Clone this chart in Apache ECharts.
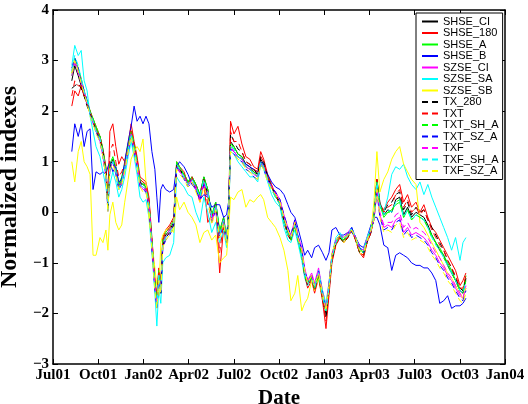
<!DOCTYPE html>
<html>
<head>
<meta charset="utf-8">
<script src="https://cdn.jsdelivr.net/npm/echarts@6/dist/echarts.min.js"></script>
<style>html,body{margin:0;padding:0;background:#fff}#c{width:528px;height:404px}</style>
</head>
<body>
<div id="c"></div>
<script>
// ---- data ----
const xLabels = ['Jul01','Oct01','Jan02','Apr02','Jul02','Oct02','Jan03','Apr03','Jul03','Oct03','Jan04'];
const yTicks = [-3,-2,-1,0,1,2,3,4];
const dates = [
'2001-08-08','2001-08-14','2001-08-21','2001-08-27','2001-09-02','2001-09-08','2001-09-14','2001-09-20','2001-09-26','2001-10-04',
'2001-10-10','2001-10-16','2001-10-20','2001-10-24','2001-10-30','2001-11-05','2001-11-11','2001-11-17','2001-11-23','2001-11-30',
'2001-12-06','2001-12-12','2001-12-18','2001-12-24','2001-12-30','2002-01-05','2002-01-11','2002-01-17','2002-01-23','2002-01-27',
'2002-01-31','2002-02-04','2002-02-08','2002-02-14','2002-02-22','2002-03-02','2002-03-08','2002-03-14','2002-03-23','2002-03-31',
'2002-04-08','2002-04-16','2002-04-24','2002-05-02','2002-05-10','2002-05-18','2002-05-26','2002-06-03','2002-06-11','2002-06-17',
'2002-06-21','2002-06-25','2002-07-02','2002-07-10','2002-07-18','2002-07-26','2002-08-03','2002-08-11','2002-08-19','2002-08-25',
'2002-08-31','2002-09-08','2002-09-16','2002-09-24','2002-10-03','2002-10-11','2002-10-19','2002-10-25','2002-11-02','2002-11-08',
'2002-11-16','2002-11-22','2002-11-28','2002-12-06','2002-12-12','2002-12-20','2002-12-28','2003-01-04','2003-01-10','2003-01-16',
'2003-01-24','2003-02-01','2003-02-09','2003-02-17','2003-02-25','2003-03-05','2003-03-13','2003-03-21','2003-03-28','2003-04-05',
'2003-04-11','2003-04-17','2003-04-23','2003-05-01','2003-05-09','2003-05-17','2003-05-25','2003-06-02','2003-06-10','2003-06-18',
'2003-06-26','2003-07-05','2003-07-13','2003-07-21','2003-07-29','2003-08-06','2003-08-14','2003-08-22','2003-08-30','2003-09-07',
'2003-09-15','2003-09-23','2003-10-02','2003-10-08','2003-10-14'];

const SHSE_CI = [2.6,2.9,2.7,2.5,2.3,2.15,1.95,1.8,1.65,1.5, 1.2,0.8,0.1,0.9,1.05,0.85,0.5,0.65,0.9,1.3, 1.6,1.3,1.0,0.6,0.55,0.5,0.2,-0.6,-1.4,-1.75, -1.2,-1.5,-0.6,-0.45,-0.35,-0.2,0.95,0.85,0.75,0.6, 0.7,0.55,0.35,0.7,0.45,-0.1,0.2,-0.4,-0.1,-0.55, 0.0,1.4,1.3,1.15,1.1,0.95,0.9,0.8,0.75,1.05, 0.95,0.7,0.5,0.35,0.2,-0.15,-0.4,-0.5,-0.2,-0.5, -0.8,-1.2,-1.4,-1.25,-1.5,-1.2,-1.65,-2.0,-1.5,-0.9, -0.6,-0.45,-0.55,-0.45,-0.35,-0.5,-0.75,-0.8,-0.55,-0.35, -0.1,0.65,0.2,-0.05,0.05,0.0,0.25,0.3,-0.05,0.1, -0.1,0.0,-0.05,-0.1,-0.25,-0.45,-0.6,-0.75,-0.85,-1.05, -1.2,-1.35,-1.55,-1.6,-1.3];
const SHSE_180 = [2.1,2.4,2.3,2.5,2.35,2.2,2.0,1.85,1.7,1.5, 1.25,0.9,0.3,1.6,1.75,1.3,0.95,1.1,1.0,1.35, 1.75,1.4,1.1,0.7,0.65,0.6,0.3,-0.5,-1.3,-1.65, -1.1,-1.4,-0.5,-0.35,-0.25,-0.1,1.0,0.9,0.8,0.55, 0.7,0.5,0.2,0.6,-0.2,-0.05,0.15,-1.2,-0.3,-0.6, 0.0,1.8,1.55,1.7,1.35,1.1,1.05,0.9,0.85,1.2, 1.05,0.75,0.55,0.35,0.15,-0.2,-0.45,-0.55,-0.25,-0.55, -0.85,-1.25,-1.5,-1.35,-1.6,-1.3,-1.75,-2.3,-1.65,-1.0, -0.65,-0.5,-0.6,-0.5,-0.35,-0.55,-0.8,-0.9,-0.6,-0.4, -0.1,0.65,0.15,0.05,0.2,0.3,0.45,0.55,0.2,0.35, 0.1,0.2,0.0,0.15,-0.1,-0.3,-0.4,-0.55,-0.7,-0.85, -1.0,-1.15,-1.45,-1.35,-1.2];
const SHSE_A = [2.75,3.05,2.85,2.65,2.4,2.2,2.0,1.85,1.7,1.5, 1.25,0.85,0.15,0.95,1.1,0.9,0.55,0.7,0.95,1.35, 1.6,1.35,1.0,0.65,0.6,0.5,0.2,-0.55,-1.35,-1.7, -1.15,-1.45,-0.55,-0.4,-0.3,-0.15,1.0,0.9,0.75,0.6, 0.7,0.55,0.35,0.7,0.45,-0.05,0.2,-0.35,-0.1,-0.5, 0.0,1.35,1.3,1.15,1.1,0.9,0.85,0.8,0.7,1.0, 0.9,0.7,0.5,0.3,0.2,-0.2,-0.4,-0.5,-0.25,-0.5, -0.85,-1.2,-1.35,-1.3,-1.45,-1.2,-1.6,-1.9,-1.45,-0.9, -0.6,-0.45,-0.55,-0.4,-0.35,-0.5,-0.7,-0.8,-0.55,-0.35, -0.1,0.6,0.15,-0.1,0.0,0.05,0.15,0.2,-0.1,0.05, -0.15,-0.05,-0.1,-0.15,-0.3,-0.45,-0.6,-0.7,-0.85,-1.0, -1.15,-1.35,-1.5,-1.55,-1.25];
const SHSE_B = [1.2,1.75,1.5,1.75,1.3,1.6,1.65,0.45,0.8,0.75, 0.8,0.75,0.9,1.0,0.8,0.9,0.6,0.65,1.0,1.4, 1.7,2.1,1.8,1.9,1.75,1.9,1.75,1.2,0.85,0.3, -0.2,0.45,0.55,0.45,0.4,0.45,0.9,1.0,0.9,0.75, 0.55,0.45,0.25,0.35,0.3,0.1,0.15,0.15,-0.1,-0.05, 0.2,1.25,1.2,1.1,1.05,0.95,0.9,0.85,0.8,1.0, 0.95,0.75,0.6,0.5,0.45,0.35,0.15,0.0,-0.1,-0.3, -0.6,-0.85,-0.75,-0.9,-0.7,-0.65,-0.8,-0.95,-0.8,-0.35, -0.3,-0.45,-0.45,-0.4,-0.4,-0.5,-0.65,-0.7,-0.5,-0.25, -0.1,-0.1,-0.25,-0.65,-0.7,-1.15,-0.85,-0.8,-0.85,-0.9, -1.0,-1.05,-1.05,-1.1,-1.1,-1.2,-1.35,-1.8,-1.75,-1.65, -1.9,-1.85,-1.85,-1.8,-1.7];
const SZSE_CI = [2.8,3.0,2.8,2.6,2.4,2.2,1.95,1.75,1.6,1.4, 1.1,0.7,0.05,0.85,1.0,0.8,0.45,0.6,0.85,1.2, 1.5,1.25,0.95,0.55,0.45,0.45,0.1,-0.7,-1.5,-1.85, -1.3,-1.55,-0.7,-0.5,-0.4,-0.25,0.9,0.8,0.7,0.55, 0.6,0.45,0.25,0.55,0.35,-0.2,0.1,-0.45,-0.15,-0.6, -0.05,1.25,1.2,1.1,1.05,0.9,0.85,0.75,0.7,0.95, 0.9,0.65,0.5,0.4,0.25,-0.05,-0.3,-0.45,-0.15,-0.45, -0.7,-1.1,-1.35,-1.2,-1.4,-1.1,-1.55,-1.85,-1.4,-0.85, -0.55,-0.45,-0.5,-0.4,-0.3,-0.5,-0.7,-0.75,-0.5,-0.35, -0.15,0.45,-0.05,-0.3,-0.25,-0.3,-0.15,-0.1,-0.4,-0.3, -0.45,-0.4,-0.45,-0.5,-0.6,-0.75,-0.85,-1.0,-1.1,-1.25, -1.35,-1.5,-1.65,-1.7,-1.5];
const SZSE_SA = [2.9,3.3,3.1,3.2,2.6,2.4,1.9,1.6,1.3,1.1, 0.8,0.5,0.2,0.55,0.8,0.6,0.3,0.45,0.7,1.1, 1.4,1.1,0.75,0.3,0.2,0.25,-0.1,-0.8,-1.6,-2.25, -1.5,-1.8,-1.0,-0.9,-0.85,-0.6,0.7,0.6,0.5,0.35, 0.3,0.0,-0.2,0.3,0.0,-0.4,-0.2,-0.6,-0.35,-0.7, -0.2,1.2,1.15,1.0,0.9,0.8,0.7,0.7,0.6,0.95, 0.85,0.6,0.35,0.2,0.1,-0.3,-0.55,-0.6,-0.35,-0.6, -0.95,-1.3,-1.45,-1.3,-1.45,-1.15,-1.55,-1.8,-1.4,-0.85, -0.5,-0.4,-0.5,-0.45,-0.3,-0.5,-0.7,-0.75,-0.5,-0.3, -0.05,0.6,0.1,0.0,0.3,0.75,0.9,0.85,0.95,0.7, 0.55,0.45,0.6,0.35,0.55,0.3,0.1,-0.1,-0.3,-0.5, -0.75,-0.5,-0.95,-0.6,-0.5];
const SZSE_SB = [1.0,0.6,1.2,1.4,1.0,0.9,0.75,-0.85,-0.85,-0.5, -0.6,-0.35,-0.75,-0.05,0.2,-0.2,-0.35,-0.25,0.2,0.65, 1.05,1.2,1.3,1.2,1.45,0.6,-0.1,-0.6,-1.1,-1.45, -1.65,-0.6,-0.45,-0.35,-0.3,-0.4,0.3,0.05,0.2,0.0, -0.1,-0.25,-0.6,-0.4,-0.35,-0.55,-0.45,-1.0,-0.9,-0.85, -0.4,0.3,0.25,0.4,0.45,0.1,0.25,0.2,0.3,0.35, 0.25,-0.1,-0.2,-0.3,-0.5,-0.75,-1.15,-1.75,-1.6,-1.25, -1.95,-1.8,-1.7,-1.35,-1.55,-1.3,-1.7,-1.85,-1.45,-0.8, -0.6,-0.5,-0.6,-0.5,-0.35,-0.55,-0.8,-0.85,-0.6,-0.35, 0.2,1.2,0.4,0.65,0.8,1.05,1.2,1.3,0.95,0.8, 0.65,0.55,-0.2,-0.3,-0.45,-0.6,-0.75,-0.9,-1.05,-1.2, -1.3,-1.45,-1.6,-1.7,-1.5];
const TX_280 = [2.45,2.5,2.55,2.45,2.3,2.1,1.95,1.8,1.6,1.45, 1.2,0.8,0.05,0.9,1.05,0.8,0.5,0.6,0.9,1.3, 1.55,1.3,0.95,0.6,0.5,0.45,0.15,-0.65,-1.45,-1.8, -1.25,-1.6,-0.65,-0.5,-0.4,-0.25,0.95,0.85,0.7,0.55, 0.65,0.5,0.3,0.65,0.35,-0.1,0.15,-0.5,-0.15,-0.6, -0.05,1.55,1.4,1.25,1.2,1.0,0.95,0.85,0.75,1.1, 1.0,0.7,0.5,0.35,0.15,-0.15,-0.45,-0.55,-0.2,-0.5, -0.8,-1.25,-1.45,-1.3,-1.55,-1.25,-1.7,-2.1,-1.55,-0.95, -0.6,-0.5,-0.6,-0.5,-0.35,-0.55,-0.8,-0.85,-0.6,-0.4, -0.1,0.6,0.15,0.0,0.15,0.2,0.35,0.4,0.05,0.2, -0.05,0.1,0.0,0.05,-0.15,-0.3,-0.45,-0.6,-0.75,-0.95, -1.1,-1.3,-1.5,-1.55,-1.3];
const TXT = [2.3,2.6,2.5,2.5,2.3,2.15,2.0,1.8,1.65,1.5, 1.2,0.85,0.2,1.2,1.35,1.0,0.7,0.8,0.95,1.3, 1.65,1.35,1.05,0.65,0.6,0.55,0.25,-0.55,-1.35,-1.7, -1.15,-1.45,-0.55,-0.4,-0.3,-0.15,0.95,0.85,0.75,0.55, 0.7,0.5,0.3,0.65,0.15,-0.1,0.15,-0.8,-0.2,-0.6, 0.0,1.6,1.4,1.4,1.2,1.0,0.95,0.85,0.8,1.1, 1.0,0.7,0.5,0.35,0.15,-0.2,-0.45,-0.55,-0.25,-0.5, -0.85,-1.25,-1.45,-1.3,-1.55,-1.25,-1.7,-2.15,-1.6,-0.95, -0.65,-0.5,-0.55,-0.5,-0.35,-0.55,-0.8,-0.85,-0.6,-0.4, -0.1,0.65,0.15,0.0,0.1,0.15,0.35,0.45,0.1,0.25, 0.0,0.1,-0.05,0.05,-0.15,-0.35,-0.5,-0.65,-0.75,-0.95, -1.1,-1.25,-1.5,-1.5,-1.25];
const TXT_SH_A = [2.7,2.95,2.8,2.6,2.35,2.2,2.0,1.85,1.65,1.5, 1.2,0.85,0.1,0.95,1.05,0.85,0.5,0.65,0.9,1.3, 1.6,1.3,1.0,0.6,0.55,0.5,0.15,-0.6,-1.4,-1.75, -1.2,-1.5,-0.6,-0.45,-0.35,-0.2,0.95,0.85,0.75,0.6, 0.7,0.55,0.3,0.65,0.4,-0.1,0.15,-0.4,-0.15,-0.55, 0.0,1.35,1.25,1.1,1.05,0.9,0.85,0.75,0.7,1.0, 0.9,0.65,0.45,0.3,0.15,-0.2,-0.45,-0.55,-0.25,-0.55, -0.85,-1.25,-1.4,-1.3,-1.5,-1.25,-1.65,-1.95,-1.5,-0.9, -0.6,-0.5,-0.55,-0.45,-0.35,-0.5,-0.75,-0.8,-0.55,-0.35, -0.1,0.6,0.15,-0.05,0.0,0.0,0.2,0.25,-0.1,0.05, -0.15,-0.05,-0.1,-0.15,-0.3,-0.5,-0.6,-0.75,-0.9,-1.05, -1.2,-1.35,-1.55,-1.6,-1.35];
const TXT_SZ_A = [2.85,3.05,2.85,2.6,2.4,2.2,1.95,1.75,1.6,1.4, 1.1,0.7,0.0,0.85,1.0,0.75,0.45,0.55,0.85,1.2, 1.5,1.2,0.9,0.5,0.45,0.4,0.1,-0.7,-1.5,-1.9, -1.35,-1.6,-0.7,-0.55,-0.45,-0.3,0.9,0.8,0.65,0.5, 0.6,0.45,0.25,0.55,0.3,-0.2,0.05,-0.5,-0.2,-0.6, -0.1,1.25,1.15,1.05,1.0,0.85,0.8,0.7,0.65,0.95, 0.85,0.65,0.5,0.4,0.25,-0.05,-0.3,-0.45,-0.15,-0.45, -0.75,-1.15,-1.35,-1.25,-1.45,-1.15,-1.6,-1.9,-1.45,-0.85, -0.55,-0.45,-0.5,-0.45,-0.3,-0.5,-0.7,-0.8,-0.55,-0.35, -0.15,0.4,-0.1,-0.35,-0.3,-0.35,-0.2,-0.15,-0.45,-0.35, -0.5,-0.45,-0.5,-0.55,-0.65,-0.8,-0.9,-1.05,-1.15,-1.3, -1.4,-1.55,-1.7,-1.75,-1.55];
const TXF = [2.7,2.95,2.75,2.55,2.35,2.15,1.95,1.8,1.6,1.45, 1.15,0.75,0.05,0.9,1.0,0.8,0.5,0.6,0.85,1.25, 1.55,1.25,0.95,0.55,0.5,0.45,0.15,-0.65,-1.45,-1.8, -1.25,-1.55,-0.65,-0.45,-0.35,-0.2,0.9,0.8,0.7,0.55, 0.65,0.5,0.3,0.6,0.4,-0.15,0.1,-0.45,-0.15,-0.55, -0.05,1.3,1.2,1.1,1.05,0.9,0.85,0.75,0.7,1.0, 0.9,0.65,0.5,0.35,0.2,-0.1,-0.35,-0.5,-0.2,-0.5, -0.75,-1.15,-1.35,-1.25,-1.45,-1.15,-1.6,-1.9,-1.45,-0.85, -0.55,-0.45,-0.5,-0.45,-0.35,-0.5,-0.7,-0.75,-0.55,-0.35, -0.1,0.5,0.0,-0.25,-0.2,-0.2,-0.05,0.0,-0.3,-0.2, -0.35,-0.3,-0.35,-0.4,-0.5,-0.65,-0.8,-0.9,-1.05,-1.2, -1.3,-1.45,-1.6,-1.7,-1.45];
const TXF_SH_A = [2.8,3.1,2.9,2.65,2.4,2.2,1.95,1.8,1.6,1.45, 1.15,0.75,0.05,0.85,1.0,0.8,0.45,0.6,0.85,1.25, 1.55,1.25,0.95,0.55,0.5,0.45,0.15,-0.65,-1.45,-1.85, -1.25,-1.55,-0.65,-0.5,-0.4,-0.25,0.95,0.85,0.7,0.55, 0.65,0.5,0.3,0.65,0.4,-0.1,0.15,-0.45,-0.15,-0.55, 0.0,1.3,1.25,1.1,1.05,0.9,0.85,0.75,0.7,1.0, 0.9,0.65,0.45,0.3,0.15,-0.2,-0.45,-0.5,-0.25,-0.5, -0.85,-1.2,-1.4,-1.3,-1.5,-1.2,-1.65,-1.95,-1.5,-0.9, -0.6,-0.45,-0.55,-0.45,-0.35,-0.5,-0.75,-0.8,-0.55,-0.35, -0.1,0.6,0.15,-0.05,0.05,0.0,0.2,0.25,-0.1,0.05, -0.15,-0.05,-0.1,-0.15,-0.3,-0.5,-0.65,-0.75,-0.9,-1.05, -1.2,-1.35,-1.55,-1.6,-1.35];
const TXF_SZ_A = [2.75,3.0,2.8,2.55,2.35,2.15,1.9,1.75,1.55,1.4, 1.1,0.7,0.0,0.85,0.95,0.75,0.45,0.55,0.8,1.2, 1.5,1.2,0.9,0.5,0.4,0.4,0.05,-0.75,-1.55,-1.9, -1.35,-1.6,-0.7,-0.55,-0.45,-0.3,0.85,0.75,0.65,0.5, 0.6,0.4,0.2,0.5,0.3,-0.25,0.05,-0.5,-0.2,-0.65, -0.1,1.2,1.15,1.05,1.0,0.85,0.8,0.7,0.65,0.95, 0.85,0.6,0.45,0.35,0.2,-0.1,-0.35,-0.5,-0.2,-0.5, -0.75,-1.15,-1.4,-1.25,-1.45,-1.2,-1.6,-1.95,-1.5,-0.85, -0.55,-0.45,-0.5,-0.45,-0.35,-0.5,-0.75,-0.8,-0.55,-0.35, -0.15,0.45,-0.1,-0.4,-0.35,-0.4,-0.25,-0.2,-0.5,-0.4, -0.55,-0.5,-0.55,-0.6,-0.7,-0.85,-0.95,-1.1,-1.2,-1.35, -1.45,-1.6,-1.75,-1.8,-1.6];

const seriesNames = ['SHSE_CI','SHSE_180','SHSE_A','SHSE_B','SZSE_CI','SZSE_SA','SZSE_SB','TX_280','TXT','TXT_SH_A','TXT_SZ_A','TXF','TXF_SH_A','TXF_SZ_A'];
const seriesValues = [SHSE_CI,SHSE_180,SHSE_A,SHSE_B,SZSE_CI,SZSE_SA,SZSE_SB,TX_280,TXT,TXT_SH_A,TXT_SZ_A,TXF,TXF_SH_A,TXF_SZ_A];

// ---- styles ----
const seriesColors = ['#000000','#ff0000','#00ff00','#0000ff','#ff00ff','#00ffff','#ffff00','#000000','#ff0000','#00ff00','#0000ff','#ff00ff','#00ffff','#ffff00'];
const seriesDashed = [false,false,false,false,false,false,false,true,true,true,true,true,true,true];

const DAY = 86400000;
const origin = Date.UTC(2001, 6, 1);
const span = (Date.UTC(2004, 0, 1) - origin) / DAY; // 914 days
const step = span / 10;
function dayOffset(s) {
  const p = s.split('-').map(Number);
  return (Date.UTC(p[0], p[1] - 1, p[2]) - origin) / DAY;
}

const serif = 'Liberation Serif, Times New Roman, serif';
const series = seriesNames.map((n, k) => ({
  name: n,
  type: 'line',
  symbol: 'none',
  showSymbol: false,
  animation: false,
  data: dates.map((d, i) => [dayOffset(d), seriesValues[k][i]]),
  lineStyle: { color: seriesColors[k], width: 1, type: seriesDashed[k] ? [6, 4] : 'solid' },
  itemStyle: { color: seriesColors[k] },
  emphasis: { disabled: true }
}));

const chart = echarts.init(document.getElementById('c'), null, { renderer: 'canvas' });
const axisLineStyle = { color: '#000', width: 1.5 };
const tickStyle = { show: true, inside: true, length: 5, lineStyle: { color: '#000', width: 1 } };
chart.setOption({
  animation: false,
  backgroundColor: '#fff',
  grid: { left: 53, right: 23, top: 10, bottom: 40, containLabel: false, outerBoundsMode: 'none' },
  legend: {
    orient: 'vertical', left: 416, top: 13,
    itemWidth: 16, itemHeight: 10, itemGap: 0.5,
    padding: [3, 4, 3, 5],
    backgroundColor: '#fff', borderColor: '#000', borderWidth: 1,
    itemStyle: { opacity: 0 },
    textStyle: { fontFamily: 'Liberation Sans, Arial, sans-serif', fontSize: 11, color: '#000', lineHeight: 11 },
    selectedMode: false,
    data: seriesNames
  },
  xAxis: [{
    type: 'value', min: 0, max: span, interval: step, position: 'bottom',
    axisLine: { show: true, onZero: false, lineStyle: axisLineStyle },
    axisTick: tickStyle,
    splitLine: { show: false },
    axisLabel: {
      margin: 4, color: '#000', fontFamily: serif, fontWeight: 'bold', fontSize: 15,
      showMinLabel: true, showMaxLabel: true, hideOverlap: false,
      formatter: v => xLabels[Math.round(v / step)] || ''
    },
    name: 'Date', nameLocation: 'middle', nameGap: 20,
    nameTextStyle: { fontFamily: serif, fontWeight: 'bold', fontSize: 21, color: '#000' }
  }, {
    type: 'value', min: 0, max: span, interval: step, position: 'top',
    axisLine: { show: true, onZero: false, lineStyle: axisLineStyle },
    axisTick: tickStyle,
    splitLine: { show: false }, axisLabel: { show: false }
  }],
  yAxis: [{
    type: 'value', min: yTicks[0], max: yTicks[yTicks.length - 1], interval: 1, position: 'left',
    axisLine: { show: true, onZero: false, lineStyle: axisLineStyle },
    axisTick: tickStyle,
    splitLine: { show: false },
    axisLabel: {
      margin: 4, color: '#000', fontFamily: serif, fontWeight: 'bold', fontSize: 15,
      formatter: v => String(v).replace('-', '\u2212')
    },
    name: 'Normalized indexes', nameLocation: 'middle', nameGap: 24, nameRotate: 90,
    nameTextStyle: { fontFamily: serif, fontWeight: 'bold', fontSize: 24, color: '#000' }
  }, {
    type: 'value', min: yTicks[0], max: yTicks[yTicks.length - 1], interval: 1, position: 'right',
    axisLine: { show: true, onZero: false, lineStyle: axisLineStyle },
    axisTick: tickStyle,
    splitLine: { show: false }, axisLabel: { show: false }
  }],
  series: series
});
</script>
</body>
</html>
